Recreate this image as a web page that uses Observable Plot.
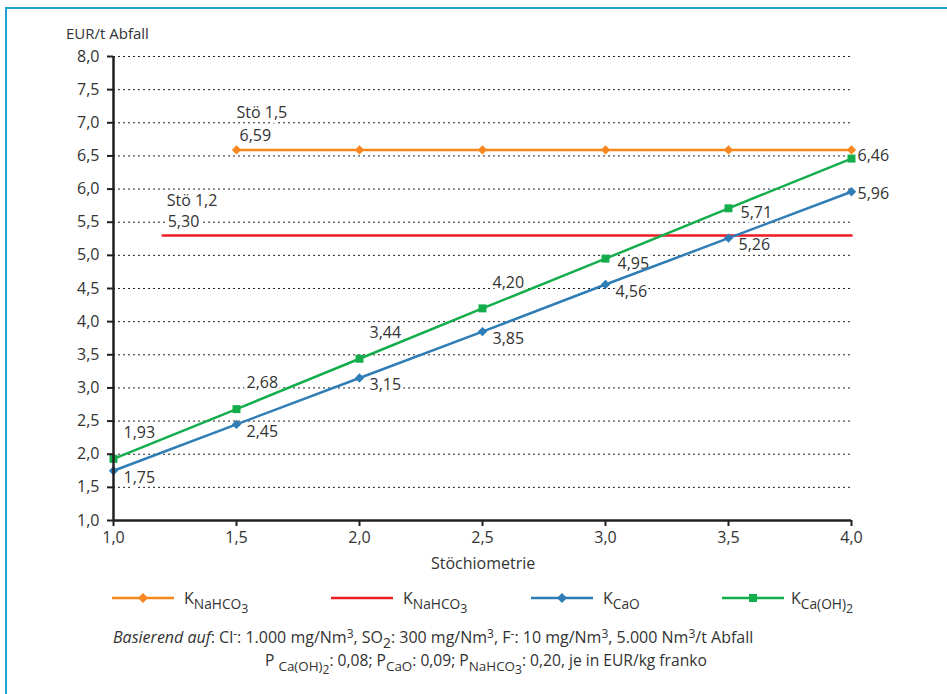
<!DOCTYPE html>
<html><head><meta charset="utf-8">
<script src="https://cdn.jsdelivr.net/npm/d3@7"></script>
<script src="https://cdn.jsdelivr.net/npm/@observablehq/plot@0.6"></script>
<style>
body{margin:0;background:#fff;font-family:"Open Sans",sans-serif;color:#333;}
#wrap{position:relative;width:947px;height:694px;overflow:hidden;background:#fff;}
#frame{position:absolute;left:5px;top:7px;width:1000px;height:1000px;border-left:2px solid #23a3cf;border-top:2px solid #23a3cf;box-sizing:border-box;}
#chart{position:absolute;left:0;top:0;}
.abs{position:absolute;white-space:nowrap;font-size:16px;line-height:18px;color:#333;}
.sub{font-size:0.86em;position:relative;top:0.35em;}
.sub .sub{font-size:0.9em;top:0.3em;}
.sup{font-size:0.75em;position:relative;top:-0.45em;}
.leg{position:absolute;display:flex;align-items:center;height:20px;}
.leg svg{display:block;}
</style>
</head><body>
<div id="wrap">
  <div id="frame"></div>
  <div id="chart"></div>
</div>
<script>
// ---- data ----
const stoechiometrie = [1.0, 1.5, 2.0, 2.5, 3.0, 3.5, 4.0];
const kCaOH2 = [1.93, 2.68, 3.44, 4.20, 4.95, 5.71, 6.46];
const kCaO = [1.75, 2.45, 3.15, 3.85, 4.56, 5.26, 5.96];
const naHCO3_15_x = [1.5, 2.0, 2.5, 3.0, 3.5, 4.0];
const naHCO3_15_value = 6.59;
const naHCO3_12_x = [1.2, 4.0];
const naHCO3_12_value = 5.30;
const yTicks = [1.0, 1.5, 2.0, 2.5, 3.0, 3.5, 4.0, 4.5, 5.0, 5.5, 6.0, 6.5, 7.0, 7.5, 8.0];
const xTicks = [1.0, 1.5, 2.0, 2.5, 3.0, 3.5, 4.0];
const gridTicks = [1.5, 2.0, 2.5, 3.0, 3.5, 4.0, 4.5, 5.0, 5.5, 6.0, 6.5, 7.0, 7.5, 8.0];

const colors = {orange: "#f7861f", red: "#ed1c24", blue: "#2f7db6", green: "#13ae4b"};
const fmt1 = d => d.toFixed(1).replace(".", ",");
const fmt2 = d => d.toFixed(2).replace(".", ",");

const green = stoechiometrie.map((x, i) => ({x, y: kCaOH2[i]}));
const blue = stoechiometrie.map((x, i) => ({x, y: kCaO[i]}));
const orange = naHCO3_15_x.map(x => ({x, y: naHCO3_15_value}));
const red = naHCO3_12_x.map(x => ({x, y: naHCO3_12_value}));

const labelStyle = {x: "x", y: "y", textAnchor: "start", fill: "#333", stroke: "white", strokeWidth: 6, paintOrder: "stroke", fontSize: 16};

const chart = Plot.plot({
  width: 947,
  height: 560,
  marginLeft: 113,
  marginRight: 96,
  marginTop: 56,
  marginBottom: 40,
  style: {fontFamily: "'Open Sans', sans-serif", fontSize: "16px", color: "#333", background: "transparent"},
  x: {domain: [1, 4]},
  y: {domain: [1, 8]},
  marks: [
    Plot.ruleY(gridTicks, {stroke: "#222", strokeWidth: 1, strokeDasharray: "2,3"}),
    // labels (white halo interrupts gridlines)
    Plot.text(green.slice(0, 4), {...labelStyle, text: d => fmt2(d.y), dx: 10, dy: -26}),
    Plot.text(green.slice(4, 6), {...labelStyle, text: d => fmt2(d.y), dx: 12, dy: 5}),
    Plot.text(green.slice(6), {...labelStyle, text: d => fmt2(d.y), dx: 6, dy: -3}),
    Plot.text(blue.slice(0, 6), {...labelStyle, text: d => fmt2(d.y), dx: 10, dy: 7}),
    Plot.text(blue.slice(6), {...labelStyle, text: d => fmt2(d.y), dx: 6, dy: 2}),
    Plot.text(orange.slice(0, 1), {...labelStyle, text: d => fmt2(d.y), dx: 3, dy: -14}),
    Plot.text(orange.slice(0, 1), {...labelStyle, text: () => "Stö 1,5", dx: 0, dy: -37}),
    Plot.text(red.slice(0, 1), {...labelStyle, text: d => fmt2(d.y), dx: 5, dy: -14}),
    Plot.text(red.slice(0, 1), {...labelStyle, text: () => "Stö 1,2", dx: 4, dy: -35}),
    // lines
    Plot.line(red, {x: "x", y: "y", stroke: colors.red, strokeWidth: 2.5}),
    Plot.line(orange, {x: "x", y: "y", stroke: colors.orange, strokeWidth: 2.5}),
    Plot.line(blue, {x: "x", y: "y", stroke: colors.blue, strokeWidth: 2.5}),
    Plot.line(green, {x: "x", y: "y", stroke: colors.green, strokeWidth: 2.5}),
    Plot.dot(orange, {x: "x", y: "y", symbol: "diamond2", r: 4.2, fill: colors.orange}),
    Plot.dot(blue, {x: "x", y: "y", symbol: "diamond2", r: 4.2, fill: colors.blue}),
    Plot.dot(green, {x: "x", y: "y", symbol: "square", r: 4.5, fill: colors.green}),
    // axes
    Plot.axisY({ticks: yTicks, tickFormat: fmt1, tickSize: 6, tickPadding: 8, stroke: "#231f20", strokeWidth: 2, label: null, fill: "#333"}),
    Plot.axisX({ticks: xTicks, tickFormat: fmt1, tickSize: 6, tickPadding: 5, stroke: "#231f20", strokeWidth: 2, label: null, fill: "#333"}),
    Plot.ruleX([1], {stroke: "#231f20", strokeWidth: 2.5}),
    Plot.ruleY([1], {stroke: "#231f20", strokeWidth: 2.5})
  ]
});
document.getElementById("chart").appendChild(chart);

const wrap = document.getElementById("wrap");
function addText(html, left, top, extra) {
  const d = document.createElement("div");
  d.className = "abs";
  d.innerHTML = html;
  d.style.left = left + "px";
  d.style.top = top + "px";
  if (extra) Object.assign(d.style, extra);
  wrap.appendChild(d);
  return d;
}
addText("EUR/t Abfall", 66, 27, {lineHeight: "12px", fontSize: "15px"});
addText("Stöchiometrie", 431, 554);

// legend
const legendItems = [
  {color: colors.orange, symbol: "diamond", html: 'K<span class="sub">NaHCO<span class="sub">3</span></span>', left: 112},
  {color: colors.red, symbol: null, html: 'K<span class="sub">NaHCO<span class="sub">3</span></span>', left: 331},
  {color: colors.blue, symbol: "diamond", html: 'K<span class="sub">CaO</span>', left: 531},
  {color: colors.green, symbol: "square", html: 'K<span class="sub">Ca(OH)<span class="sub">2</span></span>', left: 722}
];
for (const it of legendItems) {
  const d = document.createElement("div");
  d.className = "leg";
  d.style.left = it.left + "px";
  d.style.top = "588px";
  const svg = d3.create("svg").attr("width", 62).attr("height", 20);
  svg.append("line").attr("x1", 0).attr("x2", 62).attr("y1", 10).attr("y2", 10).attr("stroke", it.color).attr("stroke-width", 2.5);
  if (it.symbol === "diamond") svg.append("path").attr("d", "M31,5L36,10L31,15L26,10Z").attr("fill", it.color);
  if (it.symbol === "square") svg.append("rect").attr("x", 27).attr("y", 6).attr("width", 8).attr("height", 8).attr("fill", it.color);
  d.appendChild(svg.node());
  const t = document.createElement("span");
  t.style.marginLeft = (it.symbol === "square" ? 7 : 10) + "px";
  t.style.fontSize = "16px";
  t.innerHTML = it.html;
  d.appendChild(t);
  wrap.appendChild(d);
}

// caption
addText('<i>Basierend auf</i>: Cl<span class="sup">-</span>: 1.000 mg/Nm<span class="sup">3</span>, SO<span class="sub">2</span>: 300 mg/Nm<span class="sup">3</span>, F<span class="sup">-</span>: 10 mg/Nm<span class="sup">3</span>, 5.000 Nm<span class="sup">3</span>/t Abfall', 113, 628, {fontSize: "16px"});
addText('P <span class="sub">Ca(OH)<span class="sub">2</span></span>: 0,08; P<span class="sub">CaO</span>: 0,09; P<span class="sub">NaHCO<span class="sub">3</span></span>: 0,20, je in EUR/kg franko', 265, 651, {fontSize: "15.6px"});
</script>
</body></html>
